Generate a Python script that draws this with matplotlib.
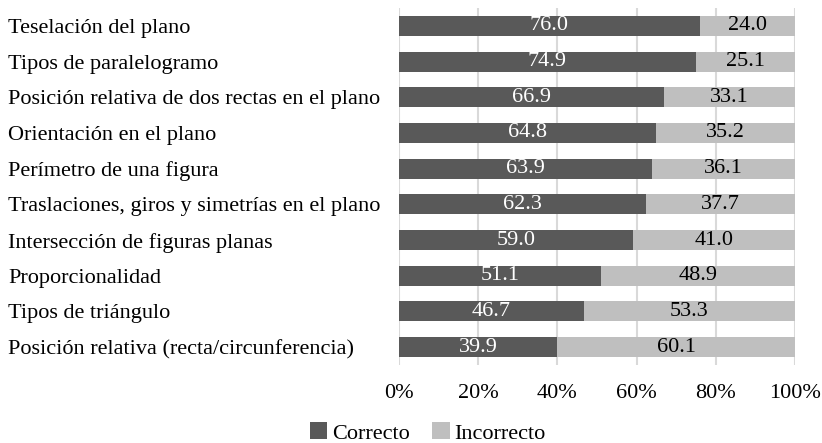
import matplotlib

matplotlib.use("Agg")
import matplotlib.pyplot as plt

categories = [
    "Teselación del plano",
    "Tipos de paralelogramo",
    "Posición relativa de dos rectas en el plano",
    "Orientación en el plano",
    "Perímetro de una figura",
    "Traslaciones, giros y simetrías en el plano",
    "Intersección de figuras planas",
    "Proporcionalidad",
    "Tipos de triángulo",
    "Posición relativa (recta/circunferencia)",
]
correcto = [76.0, 74.9, 66.9, 64.8, 63.9, 62.3, 59.0, 51.1, 46.7, 39.9]
incorrecto = [24.0, 25.1, 33.1, 35.2, 36.1, 37.7, 41.0, 48.9, 53.3, 60.1]
ticks = [0, 20, 40, 60, 80, 100]

plt.rcParams["font.family"] = ["Liberation Serif", "DejaVu Serif"]
plt.rcParams["font.size"] = 16

dark = "#595959"
light = "#bfbfbf"

W, H = 822, 443
fig = plt.figure(figsize=(W / 100, H / 100), dpi=100)
ax = fig.add_axes([399 / W, 1 - 365 / H, 396 / W, 357 / H])

y = list(range(len(categories)))
b1 = ax.barh(y, correcto, height=0.56, color=dark, label="Correcto", zorder=2)
b2 = ax.barh(y, incorrecto, left=correcto, height=0.56, color=light,
             label="Incorrecto", zorder=2)

for i in y:
    ax.text(correcto[i] / 2, i, f"{correcto[i]:.1f}", ha="center", va="center",
            color="white", zorder=3)
    ax.text(correcto[i] + incorrecto[i] / 2, i, f"{incorrecto[i]:.1f}",
            ha="center", va="center", color="black", zorder=3)

ax.set_xlim(0, 100)
ax.set_ylim(len(categories) - 0.5, -0.5)
ax.set_yticks(y)
ax.set_yticklabels(categories, ha="left")
ax.set_xticks(ticks)
ax.set_xticklabels([f"{t}%" for t in ticks])
ax.tick_params(length=0)
ax.tick_params(axis="x", pad=14)
# left-aligned category labels starting near the figure edge
ax.tick_params(axis="y", pad=(399 - 8) * 72 / 100)
for s in ax.spines.values():
    s.set_visible(False)
ax.grid(axis="x", color="#d9d9d9", linewidth=1.5, zorder=0)
ax.set_axisbelow(True)

fig.legend(handles=[b1, b2], loc="center", bbox_to_anchor=(0.52, 1 - 433 / H),
           ncol=2, frameon=False, handlelength=0.8, handleheight=0.8,
           handletextpad=0.2, columnspacing=1.0)

fig.savefig("out.png", dpi=100)
plt.close(fig)
